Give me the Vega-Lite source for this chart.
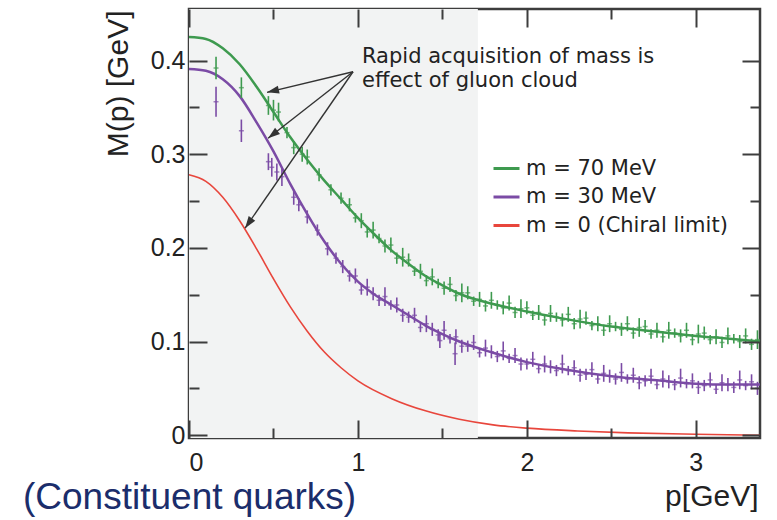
{
  "$schema": "https://vega.github.io/schema/vega-lite/v6.json",
  "width": 571,
  "height": 429,
  "autosize": {"type": "none"},
  "padding": {"left": 189, "top": 9, "right": 17, "bottom": 82},
  "background": "white",
  "config": {
    "view": {"stroke": "#3d3d3d", "strokeWidth": 2.5},
    "axis": {
      "grid": false,
      "domain": false,
      "tickColor": "#3d3d3d",
      "tickWidth": 2,
      "labelFont": "Liberation Sans",
      "labelFontSize": 25,
      "labelColor": "#222",
      "titleFont": "Liberation Sans",
      "titleFontSize": 30,
      "titleFontWeight": "normal",
      "titleColor": "#222",
      "zindex": 2
    }
  },
  "title": {
    "text": "(Constituent quarks)",
    "orient": "bottom",
    "anchor": "start",
    "frame": "group",
    "offset": 0,
    "dx": -166,
    "dy": -2,
    "baseline": "alphabetic",
    "font": "Liberation Sans",
    "fontSize": 37,
    "fontWeight": "normal",
    "color": "#1b2d6b"
  },
  "datasets": {
    "shade": [{"p0": 0, "p1": 1.71}],
    "curves": [
      {"series": "m = 70 MeV", "p": 0, "M": 0.425},
      {"series": "m = 70 MeV", "p": 0.1, "M": 0.423},
      {"series": "m = 70 MeV", "p": 0.2, "M": 0.413},
      {"series": "m = 70 MeV", "p": 0.3, "M": 0.396},
      {"series": "m = 70 MeV", "p": 0.4, "M": 0.372},
      {"series": "m = 70 MeV", "p": 0.5, "M": 0.345},
      {"series": "m = 70 MeV", "p": 0.6, "M": 0.318},
      {"series": "m = 70 MeV", "p": 0.7, "M": 0.294},
      {"series": "m = 70 MeV", "p": 0.8, "M": 0.272},
      {"series": "m = 70 MeV", "p": 0.9, "M": 0.252},
      {"series": "m = 70 MeV", "p": 1.0, "M": 0.232},
      {"series": "m = 70 MeV", "p": 1.1, "M": 0.214},
      {"series": "m = 70 MeV", "p": 1.2, "M": 0.197},
      {"series": "m = 70 MeV", "p": 1.3, "M": 0.183},
      {"series": "m = 70 MeV", "p": 1.4, "M": 0.170},
      {"series": "m = 70 MeV", "p": 1.5, "M": 0.160},
      {"series": "m = 70 MeV", "p": 1.6, "M": 0.151},
      {"series": "m = 70 MeV", "p": 1.8, "M": 0.140},
      {"series": "m = 70 MeV", "p": 2.0, "M": 0.132},
      {"series": "m = 70 MeV", "p": 2.2, "M": 0.125},
      {"series": "m = 70 MeV", "p": 2.5, "M": 0.116},
      {"series": "m = 70 MeV", "p": 2.8, "M": 0.110},
      {"series": "m = 70 MeV", "p": 3.0, "M": 0.106},
      {"series": "m = 70 MeV", "p": 3.2, "M": 0.103},
      {"series": "m = 70 MeV", "p": 3.38, "M": 0.100},
      {"series": "m = 30 MeV", "p": 0, "M": 0.391},
      {"series": "m = 30 MeV", "p": 0.1, "M": 0.389},
      {"series": "m = 30 MeV", "p": 0.2, "M": 0.380},
      {"series": "m = 30 MeV", "p": 0.3, "M": 0.362},
      {"series": "m = 30 MeV", "p": 0.4, "M": 0.334},
      {"series": "m = 30 MeV", "p": 0.5, "M": 0.303},
      {"series": "m = 30 MeV", "p": 0.6, "M": 0.268},
      {"series": "m = 30 MeV", "p": 0.7, "M": 0.236},
      {"series": "m = 30 MeV", "p": 0.8, "M": 0.207},
      {"series": "m = 30 MeV", "p": 0.9, "M": 0.183},
      {"series": "m = 30 MeV", "p": 1.0, "M": 0.164},
      {"series": "m = 30 MeV", "p": 1.1, "M": 0.150},
      {"series": "m = 30 MeV", "p": 1.2, "M": 0.139},
      {"series": "m = 30 MeV", "p": 1.3, "M": 0.128},
      {"series": "m = 30 MeV", "p": 1.4, "M": 0.117},
      {"series": "m = 30 MeV", "p": 1.5, "M": 0.108},
      {"series": "m = 30 MeV", "p": 1.6, "M": 0.100},
      {"series": "m = 30 MeV", "p": 1.8, "M": 0.088},
      {"series": "m = 30 MeV", "p": 2.0, "M": 0.078},
      {"series": "m = 30 MeV", "p": 2.2, "M": 0.071},
      {"series": "m = 30 MeV", "p": 2.5, "M": 0.063},
      {"series": "m = 30 MeV", "p": 2.8, "M": 0.058},
      {"series": "m = 30 MeV", "p": 3.0, "M": 0.055},
      {"series": "m = 30 MeV", "p": 3.2, "M": 0.054},
      {"series": "m = 30 MeV", "p": 3.38, "M": 0.054},
      {"series": "m = 0 (Chiral limit)", "p": 0, "M": 0.278},
      {"series": "m = 0 (Chiral limit)", "p": 0.1, "M": 0.271},
      {"series": "m = 0 (Chiral limit)", "p": 0.2, "M": 0.254},
      {"series": "m = 0 (Chiral limit)", "p": 0.3, "M": 0.229},
      {"series": "m = 0 (Chiral limit)", "p": 0.4, "M": 0.199},
      {"series": "m = 0 (Chiral limit)", "p": 0.5, "M": 0.167},
      {"series": "m = 0 (Chiral limit)", "p": 0.6, "M": 0.137},
      {"series": "m = 0 (Chiral limit)", "p": 0.7, "M": 0.111},
      {"series": "m = 0 (Chiral limit)", "p": 0.8, "M": 0.089},
      {"series": "m = 0 (Chiral limit)", "p": 0.9, "M": 0.072},
      {"series": "m = 0 (Chiral limit)", "p": 1.0, "M": 0.058},
      {"series": "m = 0 (Chiral limit)", "p": 1.2, "M": 0.039},
      {"series": "m = 0 (Chiral limit)", "p": 1.4, "M": 0.026},
      {"series": "m = 0 (Chiral limit)", "p": 1.6, "M": 0.017},
      {"series": "m = 0 (Chiral limit)", "p": 1.8, "M": 0.011},
      {"series": "m = 0 (Chiral limit)", "p": 2.0, "M": 0.0075},
      {"series": "m = 0 (Chiral limit)", "p": 2.3, "M": 0.0045},
      {"series": "m = 0 (Chiral limit)", "p": 2.6, "M": 0.0025},
      {"series": "m = 0 (Chiral limit)", "p": 3.0, "M": 0.001},
      {"series": "m = 0 (Chiral limit)", "p": 3.38, "M": 0.0}
    ],
    "g70": [
      {"p": 0.16, "M": 0.392, "e": 0.012},
      {"p": 0.31, "M": 0.371, "e": 0.011},
      {"p": 0.47, "M": 0.352, "e": 0.010},
      {"p": 0.50, "M": 0.347, "e": 0.011},
      {"p": 0.53, "M": 0.345, "e": 0.010},
      {"p": 0.58, "M": 0.323, "e": 0.006},
      {"p": 0.62, "M": 0.307, "e": 0.007},
      {"p": 0.67, "M": 0.300, "e": 0.008},
      {"p": 0.70, "M": 0.297, "e": 0.008},
      {"p": 0.77, "M": 0.278, "e": 0.007},
      {"p": 0.84, "M": 0.262, "e": 0.006},
      {"p": 0.90, "M": 0.253, "e": 0.006},
      {"p": 0.95, "M": 0.246, "e": 0.007},
      {"p": 0.985, "M": 0.232, "e": 0.005},
      {"p": 1.02, "M": 0.229, "e": 0.008},
      {"p": 1.055, "M": 0.217, "e": 0.006},
      {"p": 1.09, "M": 0.219, "e": 0.009},
      {"p": 1.125, "M": 0.210, "e": 0.005},
      {"p": 1.16, "M": 0.202, "e": 0.007},
      {"p": 1.195, "M": 0.203, "e": 0.008},
      {"p": 1.23, "M": 0.189, "e": 0.006},
      {"p": 1.265, "M": 0.190, "e": 0.010},
      {"p": 1.30, "M": 0.187, "e": 0.007},
      {"p": 1.335, "M": 0.175, "e": 0.005},
      {"p": 1.37, "M": 0.175, "e": 0.008},
      {"p": 1.405, "M": 0.165, "e": 0.006},
      {"p": 1.44, "M": 0.169, "e": 0.009},
      {"p": 1.475, "M": 0.162, "e": 0.005},
      {"p": 1.51, "M": 0.157, "e": 0.007},
      {"p": 1.545, "M": 0.161, "e": 0.008},
      {"p": 1.58, "M": 0.149, "e": 0.006},
      {"p": 1.615, "M": 0.152, "e": 0.010},
      {"p": 1.65, "M": 0.152, "e": 0.007},
      {"p": 1.685, "M": 0.143, "e": 0.005},
      {"p": 1.72, "M": 0.145, "e": 0.008},
      {"p": 1.755, "M": 0.138, "e": 0.006},
      {"p": 1.79, "M": 0.144, "e": 0.009},
      {"p": 1.825, "M": 0.139, "e": 0.005},
      {"p": 1.86, "M": 0.136, "e": 0.007},
      {"p": 1.895, "M": 0.141, "e": 0.008},
      {"p": 1.93, "M": 0.131, "e": 0.006},
      {"p": 1.965, "M": 0.135, "e": 0.010},
      {"p": 2.00, "M": 0.136, "e": 0.007},
      {"p": 2.035, "M": 0.128, "e": 0.005},
      {"p": 2.07, "M": 0.131, "e": 0.008},
      {"p": 2.105, "M": 0.123, "e": 0.006},
      {"p": 2.14, "M": 0.130, "e": 0.009},
      {"p": 2.175, "M": 0.126, "e": 0.005},
      {"p": 2.21, "M": 0.123, "e": 0.007},
      {"p": 2.245, "M": 0.129, "e": 0.008},
      {"p": 2.28, "M": 0.119, "e": 0.006},
      {"p": 2.315, "M": 0.124, "e": 0.010},
      {"p": 2.35, "M": 0.125, "e": 0.007},
      {"p": 2.385, "M": 0.117, "e": 0.005},
      {"p": 2.42, "M": 0.119, "e": 0.008},
      {"p": 2.455, "M": 0.112, "e": 0.006},
      {"p": 2.49, "M": 0.119, "e": 0.009},
      {"p": 2.525, "M": 0.116, "e": 0.005},
      {"p": 2.56, "M": 0.113, "e": 0.007},
      {"p": 2.595, "M": 0.119, "e": 0.008},
      {"p": 2.63, "M": 0.109, "e": 0.006},
      {"p": 2.665, "M": 0.115, "e": 0.010},
      {"p": 2.70, "M": 0.116, "e": 0.007},
      {"p": 2.735, "M": 0.108, "e": 0.005},
      {"p": 2.77, "M": 0.112, "e": 0.008},
      {"p": 2.805, "M": 0.105, "e": 0.006},
      {"p": 2.84, "M": 0.112, "e": 0.009},
      {"p": 2.875, "M": 0.109, "e": 0.005},
      {"p": 2.91, "M": 0.106, "e": 0.007},
      {"p": 2.945, "M": 0.112, "e": 0.008},
      {"p": 2.98, "M": 0.102, "e": 0.006},
      {"p": 3.015, "M": 0.108, "e": 0.010},
      {"p": 3.05, "M": 0.109, "e": 0.007},
      {"p": 3.085, "M": 0.102, "e": 0.005},
      {"p": 3.12, "M": 0.105, "e": 0.008},
      {"p": 3.155, "M": 0.099, "e": 0.006},
      {"p": 3.19, "M": 0.106, "e": 0.009},
      {"p": 3.225, "M": 0.103, "e": 0.005},
      {"p": 3.26, "M": 0.100, "e": 0.007},
      {"p": 3.295, "M": 0.106, "e": 0.008},
      {"p": 3.33, "M": 0.097, "e": 0.006},
      {"p": 3.365, "M": 0.102, "e": 0.010}
    ],
    "p30": [
      {"p": 0.16, "M": 0.356, "e": 0.016},
      {"p": 0.31, "M": 0.325, "e": 0.012},
      {"p": 0.47, "M": 0.292, "e": 0.009},
      {"p": 0.49, "M": 0.286, "e": 0.010},
      {"p": 0.52, "M": 0.281, "e": 0.009},
      {"p": 0.55, "M": 0.276, "e": 0.010},
      {"p": 0.62, "M": 0.254, "e": 0.008},
      {"p": 0.65, "M": 0.246, "e": 0.007},
      {"p": 0.70, "M": 0.233, "e": 0.007},
      {"p": 0.76, "M": 0.219, "e": 0.006},
      {"p": 0.82, "M": 0.199, "e": 0.007},
      {"p": 0.87, "M": 0.189, "e": 0.006},
      {"p": 0.91, "M": 0.180, "e": 0.007},
      {"p": 0.95, "M": 0.170, "e": 0.006},
      {"p": 0.985, "M": 0.170, "e": 0.008},
      {"p": 1.02, "M": 0.155, "e": 0.005},
      {"p": 1.055, "M": 0.158, "e": 0.009},
      {"p": 1.09, "M": 0.151, "e": 0.007},
      {"p": 1.125, "M": 0.144, "e": 0.006},
      {"p": 1.16, "M": 0.148, "e": 0.010},
      {"p": 1.195, "M": 0.139, "e": 0.005},
      {"p": 1.23, "M": 0.139, "e": 0.008},
      {"p": 1.265, "M": 0.128, "e": 0.007},
      {"p": 1.30, "M": 0.126, "e": 0.006},
      {"p": 1.335, "M": 0.128, "e": 0.008},
      {"p": 1.37, "M": 0.115, "e": 0.005},
      {"p": 1.405, "M": 0.119, "e": 0.009},
      {"p": 1.44, "M": 0.113, "e": 0.007},
      {"p": 1.475, "M": 0.107, "e": 0.006},
      {"p": 1.485, "M": 0.101, "e": 0.008},
      {"p": 1.51, "M": 0.112, "e": 0.010},
      {"p": 1.545, "M": 0.103, "e": 0.005},
      {"p": 1.575, "M": 0.087, "e": 0.012},
      {"p": 1.58, "M": 0.105, "e": 0.008},
      {"p": 1.615, "M": 0.095, "e": 0.007},
      {"p": 1.65, "M": 0.095, "e": 0.006},
      {"p": 1.685, "M": 0.099, "e": 0.008},
      {"p": 1.72, "M": 0.088, "e": 0.005},
      {"p": 1.755, "M": 0.093, "e": 0.009},
      {"p": 1.79, "M": 0.089, "e": 0.007},
      {"p": 1.825, "M": 0.084, "e": 0.006},
      {"p": 1.86, "M": 0.090, "e": 0.010},
      {"p": 1.895, "M": 0.082, "e": 0.005},
      {"p": 1.93, "M": 0.085, "e": 0.008},
      {"p": 1.965, "M": 0.076, "e": 0.007},
      {"p": 2.00, "M": 0.076, "e": 0.006},
      {"p": 2.035, "M": 0.081, "e": 0.008},
      {"p": 2.07, "M": 0.071, "e": 0.005},
      {"p": 2.105, "M": 0.076, "e": 0.009},
      {"p": 2.14, "M": 0.073, "e": 0.007},
      {"p": 2.175, "M": 0.069, "e": 0.006},
      {"p": 2.21, "M": 0.076, "e": 0.010},
      {"p": 2.245, "M": 0.069, "e": 0.005},
      {"p": 2.28, "M": 0.072, "e": 0.008},
      {"p": 2.315, "M": 0.064, "e": 0.007},
      {"p": 2.35, "M": 0.065, "e": 0.006},
      {"p": 2.385, "M": 0.070, "e": 0.008},
      {"p": 2.42, "M": 0.060, "e": 0.005},
      {"p": 2.455, "M": 0.066, "e": 0.009},
      {"p": 2.49, "M": 0.063, "e": 0.007},
      {"p": 2.525, "M": 0.060, "e": 0.006},
      {"p": 2.56, "M": 0.067, "e": 0.010},
      {"p": 2.595, "M": 0.060, "e": 0.005},
      {"p": 2.63, "M": 0.064, "e": 0.008},
      {"p": 2.665, "M": 0.056, "e": 0.007},
      {"p": 2.70, "M": 0.058, "e": 0.006},
      {"p": 2.735, "M": 0.063, "e": 0.008},
      {"p": 2.77, "M": 0.054, "e": 0.005},
      {"p": 2.805, "M": 0.060, "e": 0.009},
      {"p": 2.84, "M": 0.057, "e": 0.007},
      {"p": 2.875, "M": 0.054, "e": 0.006},
      {"p": 2.91, "M": 0.061, "e": 0.010},
      {"p": 2.945, "M": 0.055, "e": 0.005},
      {"p": 2.98, "M": 0.058, "e": 0.008},
      {"p": 3.015, "M": 0.051, "e": 0.007},
      {"p": 3.05, "M": 0.053, "e": 0.006},
      {"p": 3.085, "M": 0.059, "e": 0.008},
      {"p": 3.12, "M": 0.049, "e": 0.005},
      {"p": 3.155, "M": 0.056, "e": 0.009},
      {"p": 3.19, "M": 0.054, "e": 0.007},
      {"p": 3.225, "M": 0.051, "e": 0.006},
      {"p": 3.26, "M": 0.059, "e": 0.010},
      {"p": 3.295, "M": 0.053, "e": 0.005},
      {"p": 3.33, "M": 0.057, "e": 0.008},
      {"p": 3.365, "M": 0.050, "e": 0.007}
    ],
    "arrows": [
      {"arrow": 1, "p0": 0.971, "M0": 0.388, "p1": 0.462, "M1": 0.366},
      {"arrow": 2, "p0": 0.971, "M0": 0.388, "p1": 0.468, "M1": 0.317},
      {"arrow": 3, "p0": 0.971, "M0": 0.388, "p1": 0.332, "M1": 0.221}
    ],
    "note": [
      {"p": 1.024, "M": 0.397, "label": ["Rapid acquisition of mass is", "effect of gluon cloud"]}
    ]
  },
  "layer": [
    {
      "data": {"name": "shade"},
      "mark": {"type": "rect", "color": "#f2f3f3"},
      "encoding": {
        "x": {"field": "p0", "type": "quantitative", "scale": {"domain": [0, 3.38], "nice": false, "zero": false}, "axis": null},
        "x2": {"field": "p1"}
      }
    },
    {
      "data": {"name": "curves"},
      "mark": {"type": "line", "interpolate": "monotone"},
      "encoding": {
        "x": {"field": "p", "type": "quantitative", "scale": {"domain": [0, 3.38], "nice": false, "zero": false},
          "axis": {"orient": "bottom", "values": [0, 0.5, 1, 1.5, 2, 2.5, 3],
            "labelExpr": "abs(datum.value - round(datum.value)) < 0.001 ? format(datum.value, 'd') : ''",
            "tickSize": {"expr": "abs(datum.value - round(datum.value)) < 0.001 ? -18 : -10"},
            "labelPadding": 30, "zindex": 2,
            "title": "p[GeV]", "titleX": 569, "titleY": 67, "titleAlign": "right", "titleBaseline": "alphabetic"}},
        "y": {"field": "M", "type": "quantitative", "scale": {"domain": [-0.003, 0.455], "nice": false, "zero": false},
          "axis": {"orient": "left", "values": [0, 0.05, 0.1, 0.15, 0.2, 0.25, 0.3, 0.35, 0.4],
            "labelExpr": "abs(datum.value * 10 - round(datum.value * 10)) < 0.001 ? (datum.value == 0 ? '0' : format(datum.value, '.1f')) : ''",
            "tickSize": {"expr": "abs(datum.value * 10 - round(datum.value * 10)) < 0.001 ? -18 : -10"},
            "labelPadding": 22, "zindex": 2, "title": "M(p) [GeV]", "titleX": -71, "titleY": 1, "titleAngle": 270,
            "titleAlign": "right", "titleBaseline": "middle"}},
        "color": {"field": "series", "type": "nominal",
          "scale": {"domain": ["m = 70 MeV", "m = 30 MeV", "m = 0 (Chiral limit)"], "range": ["#3e9a4f", "#7b4ba5", "#e8463c"]},
          "legend": {"orient": "none", "legendX": 303, "legendY": 145, "title": null, "symbolType": "stroke", "symbolSize": 676,
            "symbolStrokeWidth": 3, "labelFont": "DejaVu Sans", "labelFontSize": 21, "labelColor": "#222", "labelOffset": 5,
            "labelLimit": 0, "rowPadding": 3.5, "padding": 0}},
        "strokeWidth": {"condition": {"test": "datum.series === 'm = 0 (Chiral limit)'", "value": 1.6}, "value": 2.5}
      }
    },
    {
      "data": {"name": "g70"},
      "mark": {"type": "errorbar", "color": "#3e9a4f", "thickness": 1.6},
      "encoding": {
        "x": {"field": "p", "type": "quantitative", "scale": {"domain": [0, 3.38], "nice": false, "zero": false}, "axis": null},
        "y": {"field": "M", "type": "quantitative", "scale": {"domain": [-0.003, 0.455], "nice": false, "zero": false}, "axis": null},
        "yError": {"field": "e"}
      }
    },
    {
      "data": {"name": "g70"},
      "mark": {"type": "tick", "orient": "horizontal", "size": 5, "thickness": 1.5, "color": "#3e9a4f"},
      "encoding": {
        "x": {"field": "p", "type": "quantitative", "scale": {"domain": [0, 3.38], "nice": false, "zero": false},
          "axis": {"orient": "top", "values": [0, 0.5, 1, 1.5, 2, 2.5, 3],
            "tickSize": {"expr": "abs(datum.value - round(datum.value)) < 0.001 ? -18 : -10"},
            "labels": false, "zindex": 2, "title": null}},
        "y": {"field": "M", "type": "quantitative", "scale": {"domain": [-0.003, 0.455], "nice": false, "zero": false},
          "axis": {"orient": "right", "values": [0, 0.05, 0.1, 0.15, 0.2, 0.25, 0.3, 0.35, 0.4],
            "tickSize": {"expr": "abs(datum.value * 10 - round(datum.value * 10)) < 0.001 ? -18 : -10"},
            "labels": false, "zindex": 2, "title": null}}
      }
    },
    {
      "data": {"name": "p30"},
      "mark": {"type": "errorbar", "color": "#7b4ba5", "thickness": 1.6},
      "encoding": {
        "x": {"field": "p", "type": "quantitative", "scale": {"domain": [0, 3.38], "nice": false, "zero": false}, "axis": null},
        "y": {"field": "M", "type": "quantitative", "scale": {"domain": [-0.003, 0.455], "nice": false, "zero": false}, "axis": null},
        "yError": {"field": "e"}
      }
    },
    {
      "data": {"name": "p30"},
      "mark": {"type": "tick", "orient": "horizontal", "size": 5, "thickness": 1.5, "color": "#7b4ba5"},
      "encoding": {
        "x": {"field": "p", "type": "quantitative", "scale": {"domain": [0, 3.38], "nice": false, "zero": false}, "axis": null},
        "y": {"field": "M", "type": "quantitative", "scale": {"domain": [-0.003, 0.455], "nice": false, "zero": false}, "axis": null}
      }
    },
    {
      "data": {"name": "arrows"},
      "mark": {"type": "rule", "color": "#333", "strokeWidth": 1.4},
      "encoding": {
        "x": {"field": "p0", "type": "quantitative", "scale": {"domain": [0, 3.38], "nice": false, "zero": false}, "axis": null},
        "y": {"field": "M0", "type": "quantitative", "scale": {"domain": [-0.003, 0.455], "nice": false, "zero": false}, "axis": null},
        "x2": {"field": "p1"},
        "y2": {"field": "M1"}
      }
    },
    {
      "data": {"name": "arrows"},
      "mark": {"type": "point", "shape": "M0,0L-0.8,2.4L0.8,2.4Z", "filled": true, "size": 100, "color": "#333", "opacity": 1},
      "encoding": {
        "x": {"field": "p1", "type": "quantitative", "scale": {"domain": [0, 3.38], "nice": false, "zero": false}, "axis": null},
        "y": {"field": "M1", "type": "quantitative", "scale": {"domain": [-0.003, 0.455], "nice": false, "zero": false}, "axis": null},
        "angle": {"field": "arrow", "type": "quantitative", "scale": {"domain": [1, 2, 3], "range": [257, 232, 215]}, "legend": null}
      }
    },
    {
      "data": {"name": "note"},
      "mark": {"type": "text", "align": "left", "baseline": "alphabetic", "font": "DejaVu Sans", "fontSize": 21, "lineHeight": 24, "color": "#222"},
      "encoding": {
        "x": {"field": "p", "type": "quantitative", "scale": {"domain": [0, 3.38], "nice": false, "zero": false}, "axis": null},
        "y": {"field": "M", "type": "quantitative", "scale": {"domain": [-0.003, 0.455], "nice": false, "zero": false}, "axis": null},
        "text": {"field": "label"}
      }
    }
  ],
  "resolve": {"axis": {"x": "independent", "y": "independent"}}
}
